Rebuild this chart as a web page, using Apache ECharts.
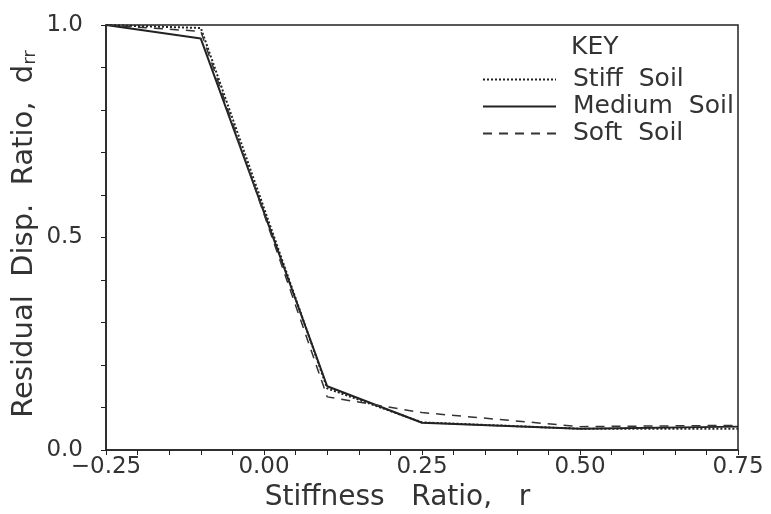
<!DOCTYPE html>
<html>
<head>
<meta charset="utf-8">
<script src="https://cdn.jsdelivr.net/npm/echarts@6/dist/echarts.min.js"></script>
<style>html,body{margin:0;padding:0;background:#fff;}#c{width:771px;height:514px;}</style>
</head>
<body>
<div id="c"></div>
<script>
var rVals = [-0.25, -0.1, 0.1, 0.25, 0.5, 0.75];
var stiffSoil = [1.0, 0.993, 0.145, 0.065, 0.05, 0.05];
var mediumSoil = [1.0, 0.968, 0.15, 0.064, 0.05, 0.055];
var softSoil = [1.0, 0.985, 0.125, 0.088, 0.055, 0.058];
var seriesNames = ['Stiff  Soil', 'Medium  Soil', 'Soft  Soil'];

function pairs(ys) { return rVals.map(function (x, i) { return [x, ys[i]]; }); }

var FONT = 'DejaVu Sans';
var INK = '#333';
var chart = echarts.init(document.getElementById('c'), null, {renderer: 'canvas'});
chart.setOption({
  backgroundColor: '#fff',
  animation: false,
  title: {
    text: 'KEY', left: 566, top: 30,
    textStyle: {fontFamily: FONT, fontSize: 25, fontWeight: 'normal', color: INK}
  },
  legend: {
    orient: 'vertical', left: 477, top: 62,
    itemWidth: 73, itemHeight: 14, itemGap: 2,
    itemStyle: {opacity: 0, borderWidth: 0},
    textStyle: {fontFamily: FONT, fontSize: 25, color: INK, padding: [0, 0, 0, 12]},
    data: seriesNames
  },
  grid: {left: 106, right: 33, top: 25, bottom: 64, show: true, borderColor: '#222', borderWidth: 1.5,
         containLabel: false, outerBoundsMode: 'none'},
  xAxis: {
    type: 'value', min: -0.25, max: 0.75, interval: 0.25,
    name: 'Stiffness   Ratio,   r', nameLocation: 'middle', nameGap: 24,
    nameTextStyle: {fontFamily: FONT, fontSize: 28, color: INK, padding: [0, 49, 0, 0]},
    axisLine: {onZero: false, lineStyle: {color: '#222', width: 1.5}},
    axisTick: {show: true, length: 5, lineStyle: {color: '#222'}},
    minorTick: {show: true, splitNumber: 5, length: 5, lineStyle: {color: '#222'}},
    splitLine: {show: false},
    axisLabel: {fontFamily: FONT, fontSize: 23, color: INK, margin: 6,
      formatter: function (v) { return v.toFixed(2).replace('-', '\u2212'); }}
  },
  yAxis: {
    type: 'value', min: 0, max: 1, interval: 0.5,
    name: '{a|Residual  Disp.  Ratio,  d}{s|rr}', nameLocation: 'middle', nameGap: 82,
    nameMoveOverlap: false,
    nameTextStyle: {fontFamily: FONT, fontSize: 29, color: INK, padding: [0, 0, 0, 7],
      verticalAlign: 'middle', lineHeight: 32,
      rich: {a: {fontFamily: FONT, fontSize: 29, color: INK, lineHeight: 32},
             s: {fontFamily: FONT, fontSize: 18, color: INK, lineHeight: 32, padding: [12, 0, 0, 0]}}},
    axisLine: {onZero: false, lineStyle: {color: '#222', width: 1.5}},
    axisTick: {show: true, length: 5, lineStyle: {color: '#222'}},
    minorTick: {show: true, splitNumber: 5, length: 5, lineStyle: {color: '#222'}},
    splitLine: {show: false},
    axisLabel: {fontFamily: FONT, fontSize: 23, color: INK, margin: 23,
      formatter: function (v) { return v.toFixed(1); }}
  },
  series: [
    {name: seriesNames[0], type: 'line', symbol: 'none', data: pairs(stiffSoil),
     lineStyle: {color: '#222', width: 2, type: [2, 2]}, itemStyle: {color: '#222'}},
    {name: seriesNames[1], type: 'line', symbol: 'none', data: pairs(mediumSoil),
     lineStyle: {color: '#222', width: 2, type: 'solid'}, itemStyle: {color: '#222'}},
    {name: seriesNames[2], type: 'line', symbol: 'none', data: pairs(softSoil),
     lineStyle: {color: '#333', width: 1.5, type: [9, 7]}, itemStyle: {color: '#333'}}
  ]
});
</script>
</body>
</html>
